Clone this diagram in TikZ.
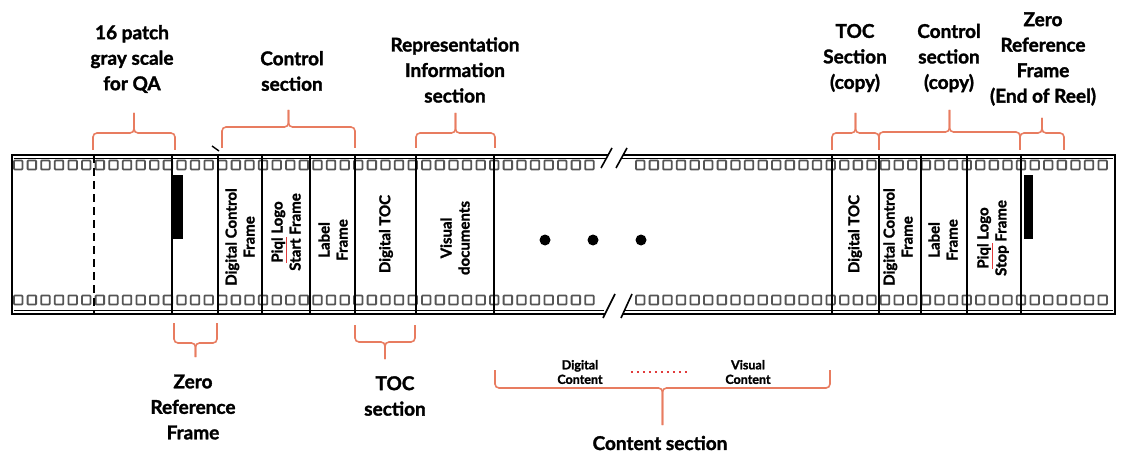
\documentclass[tikz,border=0pt]{standalone}
\usepackage{fontspec}
\setmainfont{Lato}[BoldFeatures={FakeBold=1.6}]
\definecolor{bracecol}{RGB}{232,124,96}
\definecolor{perfgray}{RGB}{85,85,85}
\definecolor{spellred}{RGB}{225,60,60}
\tikzset{
	brace/.style={bracecol, line width=1.6pt, rounded corners=4pt},
	perf/.style={perfgray, line width=1.8pt, rounded corners=0.8pt},
	divider/.style={line width=2pt},
	seclabel/.style={font=\bfseries\fontsize{19}{25.5}\selectfont, align=center, inner sep=0pt},
	framelabel/.style={font=\bfseries\fontsize{15}{18}\selectfont, align=center, inner sep=0pt, rotate=90},
	smalllabel/.style={font=\bfseries\fontsize{12.5}{14.5}\selectfont, align=center, inner sep=0pt},
}
\newcommand{\secbrace}[5]{% x1, x2, leg end, bar, stem end
	\draw[brace] (#1,#3) |- ({(#1+#2)/2},#4) -- ({(#1+#2)/2},#5);
	\draw[brace] (#2,#3) |- ({(#1+#2)/2},#4) -- ({(#1+#2)/2},#5);}
\newcommand{\spellmark}[1]{{\color{spellred}\underline{\color{black}#1}}}
\begin{document}
\begin{tikzpicture}[x=1pt, y=-1pt]
		\useasboundingbox (0,0) rectangle (1126,457);
		% film strip
		\foreach \i in {0,...,42}
			\draw[perf] ({14+13.6*\i},160.5) rectangle +(8.5,9) ({14+13.6*\i},295.5) rectangle +(8.5,9);
		\foreach \i in {0,...,34}
			\draw[perf] ({636+13.6*\i},160.5) rectangle +(8.5,9) ({636+13.6*\i},295.5) rectangle +(8.5,9);
		\draw[line width=2.5pt] (608,155) -- (12,155) -- (12,314) -- (605,314);
		\draw[line width=2.5pt] (623,155) -- (1115,155) -- (1115,314) -- (623,314);
		\draw[line width=0.8pt] (14,158.5) -- (606,158.5) (14,310.5) -- (604,310.5);
		\draw[line width=0.8pt] (622,158.5) -- (1113,158.5) (624,310.5) -- (1113,310.5);
		\draw[line width=1.6pt] (601,168) -- (612,148) (616,168) -- (627,148);
		\draw[line width=1.6pt] (603,318) -- (615,294) (621,318) -- (632,294);
		\foreach \x in {172,218,262,310,355,416,494,832,879,921,967,1021}
			\draw[divider] (\x,155) -- (\x,314);
		\draw[divider, dash pattern=on 8pt off 5pt] (94,155) -- (94,314);
		\fill (173,175) rectangle (183,239);
		\fill (1024,175) rectangle (1033,239);
		\foreach \x in {545,593,641}
			\fill (\x,240) circle (5.5);
		\draw[line width=1.4pt] (212,146) -- (219,151);
		% frame texts
		\node[framelabel] (fdcf) at (240,237) {Digital Control\\Frame};
		\node[framelabel] (fstart) at (286,232) {\spellmark{Piql} Logo\\Start Frame};
		\node[framelabel] (flabel) at (333,240) {Label\\Frame};
		\node[framelabel] (ftoc) at (386,234) {Digital TOC};
		\node[framelabel] (fvisual) at (455,238) {Visual\\documents};
		\node[framelabel] (ftoccopy) at (855,234) {Digital TOC};
		\node[framelabel] (fdcfcopy) at (898,237) {Digital Control\\Frame};
		\node[framelabel] (flabelcopy) at (943,240) {Label\\Frame};
		\node[framelabel] (fstop) at (993,238) {\spellmark{Piql} Logo\\Stop Frame};
		% section labels above
		\node[seclabel] (lblqa) at (132,59) {16 patch\\gray scale\\for QA};
		\node[seclabel] (lblctrl) at (292,71) {Control\\section};
		\node[seclabel] (lblrep) at (455,70) {Representation\\Information\\section};
		\node[seclabel] (lbltoccopy) at (855,58) {TOC\\Section\\(copy)};
		\node[seclabel] (lblctrlcopy) at (949,58) {Control\\section\\(copy)};
		\node[seclabel] (lblzeroend) at (1043,59) {Zero\\Reference\\Frame\\(End of Reel)};
		% section labels below
		\node[seclabel] (lblzeroref) at (193,407) {Zero\\Reference\\Frame};
		\node[seclabel] (lbltoc) at (395,396) {TOC\\section};
		\node[smalllabel] (lbldigital) at (580,372) {Digital\\Content};
		\node[smalllabel] (lblvisual) at (748,372) {Visual\\Content};
		\node[seclabel] (lblcontent) at (660,443) {Content section};
		\draw[spellred, line width=2.4pt, dash pattern=on 2.6pt off 3.4pt, shorten <=28pt, shorten >=38pt] (lbldigital.east) -- (lblvisual.west);
		% brackets
		\secbrace{93}{175}{150}{133}{113}
		\secbrace{222}{355}{148}{127}{110}
		\secbrace{416}{495}{148}{133}{113}
		\secbrace{832}{879}{150}{133}{113}
		\secbrace{879}{1020}{150}{132}{110}
		\secbrace{1020}{1064}{150}{133}{118}
		\secbrace{174}{217}{323}{343}{357}
		\secbrace{355}{415}{325}{342}{359}
		\secbrace{495}{830}{370}{388}{425}
\end{tikzpicture}
\end{document}
